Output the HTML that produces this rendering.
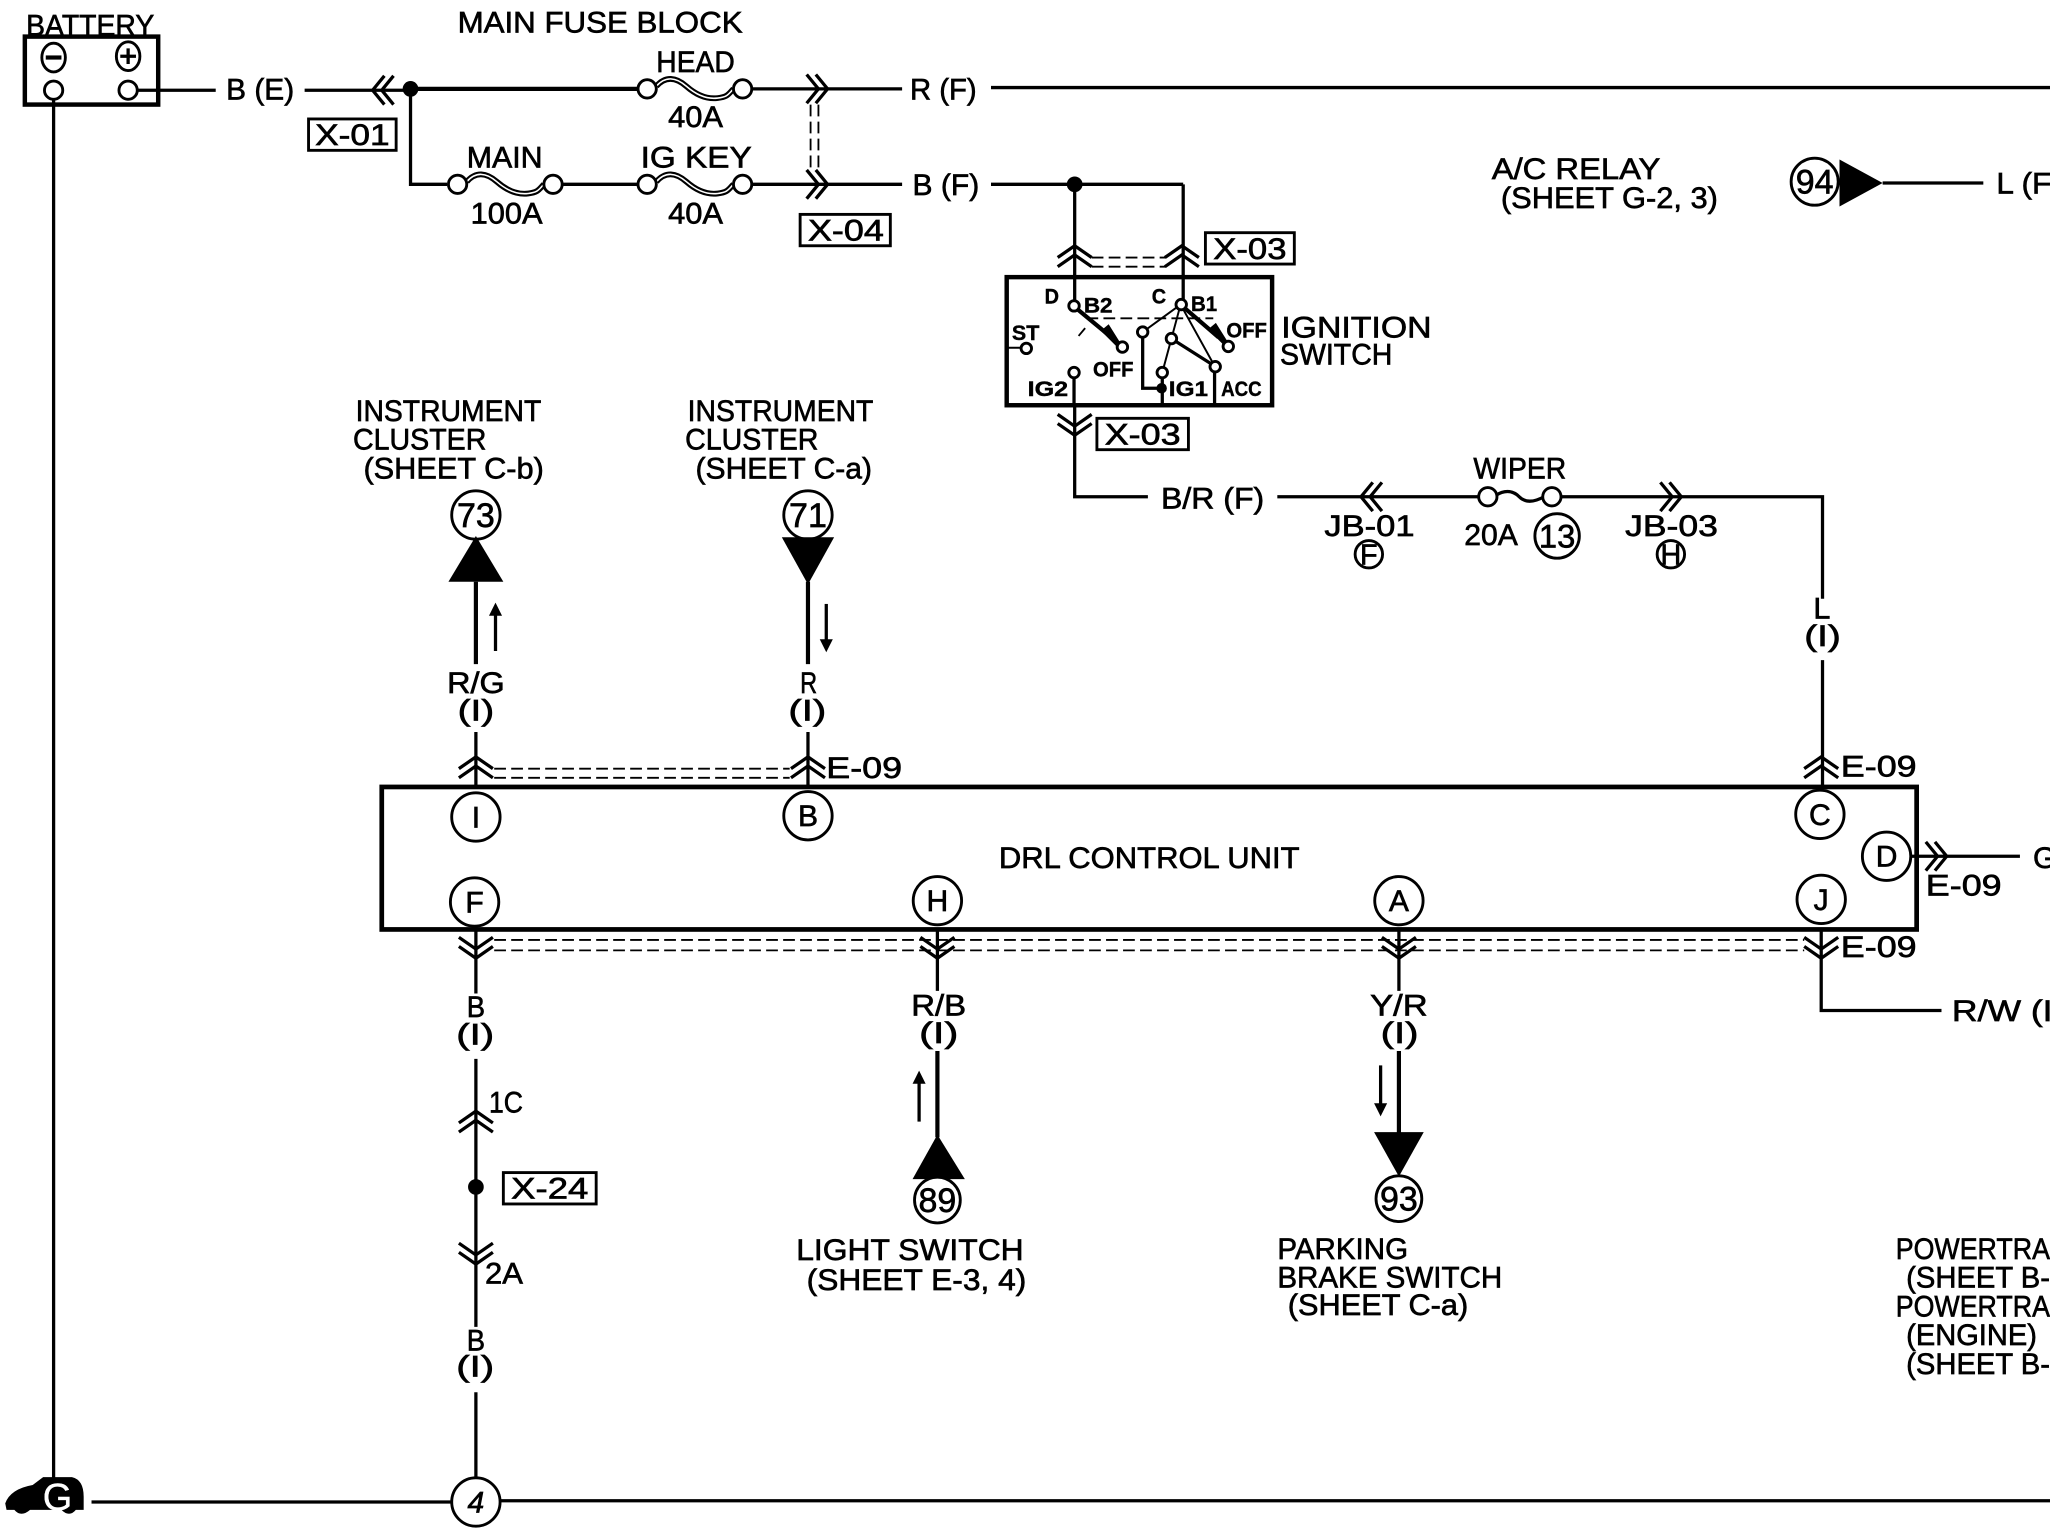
<!DOCTYPE html>
<html>
<head>
<meta charset="utf-8">
<title>DRL wiring diagram</title>
<style>
html,body{margin:0;padding:0;background:#fff;width:2050px;height:1536px;overflow:hidden}
svg{display:block}
text{font-family:"Liberation Sans",sans-serif;font-size:23px;fill:#000;stroke:#000;stroke-width:.5}
.b{font-size:16px;font-weight:bold;stroke-width:.3}
.c{text-anchor:middle}
.l{fill:none;stroke:#000;stroke-width:2.5}
.t{fill:none;stroke:#000;stroke-width:3.2}
.n{fill:none;stroke:#000;stroke-width:1.5}
.o{fill:#fff;stroke:#000;stroke-width:2.2}
.d{fill:none;stroke:#000;stroke-width:1.4;stroke-dasharray:9 4}
.x{fill:#fff;stroke:#000;stroke-width:2.2}
</style>
</head>
<body>
<svg width="2050" height="1536" viewBox="0 0 1568 1175" preserveAspectRatio="none" xmlns="http://www.w3.org/2000/svg">
<defs>
<path id="cu" class="l" d="M-13 9L0 0L13 9M-13 16L0 7L13 16"/>
<path id="cd" class="l" d="M-13 -9L0 0L13 -9M-13 -16L0 -7L13 -16"/>
<path id="cl" class="l" d="M9 -11L0 0L9 11M16 -11L7 0L16 11"/>
<path id="cr" class="l" d="M-9 -11L0 0L-9 11M-16 -11L-7 0L-16 11"/>
<g id="fuse">
<path d="M7 -2C14 -10 22 -9 30 -2S46 8 54 7S62 4 66 0" fill="none" stroke="#000" stroke-width="4.400"/>
<path d="M7 -2C14 -10 22 -9 30 -2S46 8 54 7S62 4 66 0" fill="none" stroke="#fff" stroke-width="1.200"/>
<circle class="o" cx="0" cy="0" r="7"/><circle class="o" cx="73" cy="0" r="7"/>
</g>
</defs>

<!-- battery -->
<rect x="19" y="28" width="102" height="52" fill="none" stroke="#000" stroke-width="3.400"/>
<text x="20" y="27" textLength="98" lengthAdjust="spacingAndGlyphs">BATTERY</text>
<ellipse class="o" cx="41" cy="44" rx="9" ry="11"/><path class="t" d="M35 44H47"/>
<ellipse class="o" cx="98" cy="43" rx="9" ry="11"/><path class="l" d="M92 43H104M98 37V49"/>
<circle class="o" cx="41" cy="69" r="7"/><circle class="o" cx="98" cy="69" r="7"/>
<path class="l" d="M105 69H165M41 76V1132"/>

<!-- top wiring -->
<text x="173" y="76" textLength="52" lengthAdjust="spacingAndGlyphs">B (E)</text>
<path class="l" d="M233 69H314"/>
<use href="#cl" x="285" y="69"/>
<circle cx="314" cy="68" r="6"/>
<path class="t" d="M314 68H488"/>
<path class="l" d="M314 68V141H342M430 141H488M575 68H690M575 141H690M758 141H905M905 141V233M822 141V233"/>
<path d="M758 67H1568" stroke="#000" stroke-width="2.600" fill="none"/>
<use href="#cr" x="633" y="68"/><use href="#cr" x="633" y="141"/>
<path class="d" d="M620 80V130M626 80V130"/>
<use href="#fuse" x="495" y="68"/><use href="#fuse" x="350" y="141"/><use href="#fuse" x="495" y="141"/>
<text x="350" y="25" textLength="218" lengthAdjust="spacingAndGlyphs">MAIN  FUSE  BLOCK</text>
<text x="502" y="55" textLength="60" lengthAdjust="spacingAndGlyphs">HEAD</text>
<text x="511" y="97" textLength="42" lengthAdjust="spacingAndGlyphs">40A</text>
<text x="357" y="128" textLength="58" lengthAdjust="spacingAndGlyphs">MAIN</text>
<text x="360" y="171" textLength="55" lengthAdjust="spacingAndGlyphs">100A</text>
<text x="490" y="128" textLength="85" lengthAdjust="spacingAndGlyphs">IG KEY</text>
<text x="511" y="171" textLength="42" lengthAdjust="spacingAndGlyphs">40A</text>
<text x="696" y="76" textLength="51" lengthAdjust="spacingAndGlyphs">R (F)</text>
<text x="698" y="149" textLength="51" lengthAdjust="spacingAndGlyphs">B (F)</text>
<rect class="x" x="236" y="91" width="67" height="24"/><text x="241" y="111" textLength="57" lengthAdjust="spacingAndGlyphs">X-01</text>
<rect class="x" x="612" y="164" width="69" height="24"/><text x="618" y="184" textLength="58" lengthAdjust="spacingAndGlyphs">X-04</text>
<circle cx="822" cy="141" r="6"/>

<!-- A/C relay -->
<text x="1141" y="137" textLength="129" lengthAdjust="spacingAndGlyphs">A/C RELAY</text>
<text x="1148" y="159" textLength="166" lengthAdjust="spacingAndGlyphs">(SHEET G-2, 3)</text>
<circle class="o" cx="1388" cy="139" r="18"/>
<text class="c" x="1388" y="148" style="font-size:26px">94</text>
<path d="M1407 122L1440 140L1407 158Z"/>
<path class="l" d="M1440 140H1517"/>
<text x="1527" y="148" textLength="42" lengthAdjust="spacingAndGlyphs">L (F</text>

<!-- ignition -->
<use href="#cu" x="822" y="188"/><use href="#cu" x="904" y="188"/>
<path class="d" d="M835 197H892M835 204H892"/>
<rect class="x" x="922" y="178" width="68" height="24"/><text x="928" y="198" textLength="56" lengthAdjust="spacingAndGlyphs">X-03</text>
<rect x="770" y="212" width="203" height="98" fill="none" stroke="#000" stroke-width="3.400"/>
<path class="d" d="M831 243.500H928M825 257L830 251"/>
<path class="n" d="M770 266H785M903 233L874 254M903 233L896 259L889 285M903 233L929 280"/>
<path class="l" d="M896 259L929 280M874 254V297H888M889 285V310M929 280V310M821.500 285V310"/>
<path class="t" d="M821 234L850 258M903 233L932 258"/>
<path d="M842 253L848 248L858 264L855 266ZM924 252L930 247L940 263L937 265Z"/>
<circle class="o" cx="821.500" cy="234" r="4"/><circle class="o" cx="903.500" cy="233" r="4"/>
<circle class="o" cx="858.500" cy="265.500" r="4"/><circle class="o" cx="939.500" cy="265" r="4"/>
<circle class="o" cx="785" cy="266.500" r="4"/><circle class="o" cx="821.500" cy="285" r="4"/>
<circle class="o" cx="874" cy="254" r="4"/><circle class="o" cx="896" cy="259" r="4"/>
<circle class="o" cx="889" cy="285" r="4"/><circle class="o" cx="929.500" cy="280.500" r="4"/>
<circle cx="888.500" cy="297" r="4"/>
<text class="b" x="799" y="232" textLength="11" lengthAdjust="spacingAndGlyphs">D</text>
<text class="b" x="881" y="232" textLength="11" lengthAdjust="spacingAndGlyphs">C</text>
<text class="b" x="829" y="239" textLength="22" lengthAdjust="spacingAndGlyphs">B2</text>
<text class="b" x="911" y="238" textLength="20" lengthAdjust="spacingAndGlyphs">B1</text>
<text class="b" x="774" y="260" textLength="21" lengthAdjust="spacingAndGlyphs">ST</text>
<text class="b" x="836" y="288" textLength="31" lengthAdjust="spacingAndGlyphs">OFF</text>
<text class="b" x="938" y="258" textLength="31" lengthAdjust="spacingAndGlyphs">OFF</text>
<text class="b" x="786" y="303" textLength="31" lengthAdjust="spacingAndGlyphs">IG2</text>
<text class="b" x="894" y="303" textLength="30" lengthAdjust="spacingAndGlyphs">IG1</text>
<text class="b" x="934" y="303" textLength="31" lengthAdjust="spacingAndGlyphs">ACC</text>
<text x="980" y="258" textLength="115" lengthAdjust="spacingAndGlyphs">IGNITION</text>
<text x="979" y="279" textLength="86" lengthAdjust="spacingAndGlyphs">SWITCH</text>
<use href="#cd" x="822" y="333"/>
<rect class="x" x="839" y="320" width="70" height="24"/><text x="845" y="340" textLength="58" lengthAdjust="spacingAndGlyphs">X-03</text>
<path class="l" d="M822 310V380H878M977 380H1131M1194 380H1394V458M1394 505V602"/>
<text x="888" y="389" textLength="79" lengthAdjust="spacingAndGlyphs">B/R (F)</text>
<use href="#cl" x="1041" y="380"/><use href="#cr" x="1286" y="380"/>
<path d="M1144 379C1152 374 1158 376 1162 380S1172 385 1181 380" fill="none" stroke="#000" stroke-width="2.500"/>
<circle class="o" cx="1138" cy="380" r="7"/><circle class="o" cx="1187" cy="380" r="7"/>
<text x="1127" y="366" textLength="71" lengthAdjust="spacingAndGlyphs">WIPER</text>
<text x="1120" y="417" textLength="41" lengthAdjust="spacingAndGlyphs">20A</text>
<circle class="o" cx="1191" cy="410" r="17"/><text class="c" x="1191" y="419" style="font-size:25px">13</text>
<text x="1013" y="410" textLength="69" lengthAdjust="spacingAndGlyphs">JB-01</text>
<text x="1243" y="410" textLength="71" lengthAdjust="spacingAndGlyphs">JB-03</text>
<circle class="o" cx="1047" cy="424" r="10.500"/><text class="c" x="1047" y="432" style="font-size:22px">F</text>
<circle class="o" cx="1278" cy="424" r="10.500"/><text class="c" x="1278" y="432" style="font-size:22px">H</text>
<text x="1387" y="473" textLength="13" lengthAdjust="spacingAndGlyphs">L</text>
<text x="1380" y="494" textLength="28" lengthAdjust="spacingAndGlyphs">(I)</text>
<use href="#cu" x="1393" y="579"/>
<text x="1408" y="594" textLength="58" lengthAdjust="spacingAndGlyphs">E-09</text>

<!-- instrument cluster -->
<text x="272" y="322" textLength="142" lengthAdjust="spacingAndGlyphs">INSTRUMENT</text>
<text x="270" y="344" textLength="102" lengthAdjust="spacingAndGlyphs">CLUSTER</text>
<text x="278" y="366" textLength="138" lengthAdjust="spacingAndGlyphs">(SHEET C-b)</text>
<circle class="o" cx="364" cy="394" r="18.500"/><text class="c" x="364" y="403" style="font-size:26px">73</text>
<path d="M364 410L343 445H385Z"/>
<path class="t" d="M364 445V508M618 445V508"/>
<path class="l" d="M379 470V498M364 560V602M618 560V602"/><path d="M379 461L374 471H384Z"/>
<text x="342" y="530" textLength="44" lengthAdjust="spacingAndGlyphs">R/G</text>
<text x="350" y="551" textLength="28" lengthAdjust="spacingAndGlyphs">(I)</text>
<text x="526" y="322" textLength="142" lengthAdjust="spacingAndGlyphs">INSTRUMENT</text>
<text x="524" y="344" textLength="102" lengthAdjust="spacingAndGlyphs">CLUSTER</text>
<text x="532" y="366" textLength="135" lengthAdjust="spacingAndGlyphs">(SHEET C-a)</text>
<circle class="o" cx="618" cy="394" r="18.500"/><text class="c" x="618" y="403" style="font-size:26px">71</text>
<path d="M598 411H638L618 447Z"/>
<path class="l" d="M632 462V490"/><path d="M632 499L627 489H637Z"/>
<text x="612" y="530" textLength="13" lengthAdjust="spacingAndGlyphs">R</text>
<text x="603" y="551" textLength="29" lengthAdjust="spacingAndGlyphs">(I)</text>
<use href="#cu" x="364" y="579"/><use href="#cu" x="618" y="579"/>
<path class="d" d="M378 588H604M378 595H604"/>
<text x="632" y="595" textLength="58" lengthAdjust="spacingAndGlyphs">E-09</text>

<!-- DRL unit -->
<rect x="292" y="602" width="1174" height="109" fill="none" stroke="#000" stroke-width="3.600"/>
<text x="764" y="664" textLength="230" lengthAdjust="spacingAndGlyphs">DRL  CONTROL  UNIT</text>
<circle class="o" cx="364" cy="625" r="18.500"/><text class="c" x="364" y="633">I</text>
<circle class="o" cx="618" cy="624" r="18.500"/><text class="c" x="618" y="632">B</text>
<circle class="o" cx="1392" cy="623" r="18.500"/><text class="c" x="1392" y="631">C</text>
<circle class="o" cx="1443" cy="655" r="18.500"/><text class="c" x="1443" y="663">D</text>
<circle class="o" cx="363" cy="690" r="18.500"/><text class="c" x="363" y="698">F</text>
<circle class="o" cx="717" cy="689" r="18.500"/><text class="c" x="717" y="697">H</text>
<circle class="o" cx="1070" cy="689" r="18.500"/><text class="c" x="1070" y="697">A</text>
<circle class="o" cx="1393" cy="688" r="18.500"/><text class="c" x="1393" y="696">J</text>
<path class="l" d="M1462 655H1545"/><use href="#cr" x="1489" y="655"/>
<text x="1473" y="685" textLength="58" lengthAdjust="spacingAndGlyphs">E-09</text>
<text x="1555" y="664">G</text>

<!-- below unit -->
<path class="d" d="M378 719H1380M378 727H1380"/>
<use href="#cd" x="364" y="733"/><use href="#cd" x="717" y="733"/><use href="#cd" x="1070" y="733"/><use href="#cd" x="1393" y="733"/>
<path class="l" d="M364 711V760M717 711V758M1070 711V758M1393 711V773H1485"/>
<text x="1408" y="732" textLength="58" lengthAdjust="spacingAndGlyphs">E-09</text>
<text x="1493" y="781" textLength="86" lengthAdjust="spacingAndGlyphs">R/W (I)</text>
<text x="357" y="778" textLength="14" lengthAdjust="spacingAndGlyphs">B</text>
<text x="349" y="799" textLength="29" lengthAdjust="spacingAndGlyphs">(I)</text>
<text x="697" y="777" textLength="42" lengthAdjust="spacingAndGlyphs">R/B</text>
<text x="703" y="798" textLength="30" lengthAdjust="spacingAndGlyphs">(I)</text>
<text x="1048" y="777" textLength="44" lengthAdjust="spacingAndGlyphs">Y/R</text>
<text x="1056" y="798" textLength="29" lengthAdjust="spacingAndGlyphs">(I)</text>

<!-- ground branch -->
<path class="l" d="M364 810V1015M364 1065V1132"/>
<use href="#cu" x="364" y="850"/><use href="#cd" x="364" y="967"/>
<text x="374" y="851" textLength="26" lengthAdjust="spacingAndGlyphs">1C</text>
<circle cx="364" cy="908" r="6"/>
<rect class="x" x="385" y="897" width="71" height="24"/><text x="391" y="917" textLength="59" lengthAdjust="spacingAndGlyphs">X-24</text>
<text x="371" y="982" textLength="29" lengthAdjust="spacingAndGlyphs">2A</text>
<text x="357" y="1033" textLength="14" lengthAdjust="spacingAndGlyphs">B</text>
<text x="349" y="1053" textLength="29" lengthAdjust="spacingAndGlyphs">(I)</text>

<!-- light switch -->
<path class="t" d="M717 804V870M1070 804V868"/>
<path d="M717 868L698 902H738Z"/>
<circle class="o" cx="717" cy="918" r="17.500"/><text class="c" x="717" y="927" style="font-size:26px">89</text>
<path class="l" d="M703 828V858"/><path d="M703 819L698 829H708Z"/>
<text x="609" y="964" textLength="174" lengthAdjust="spacingAndGlyphs">LIGHT  SWITCH</text>
<text x="617" y="987" textLength="168" lengthAdjust="spacingAndGlyphs">(SHEET E-3, 4)</text>

<!-- parking brake -->
<path d="M1051 866H1089L1070 900Z"/>
<circle class="o" cx="1070" cy="917" r="17.500"/><text class="c" x="1070" y="926" style="font-size:26px">93</text>
<path class="l" d="M1056 815V845"/><path d="M1056 854L1051 844H1061Z"/>
<text x="977" y="963" textLength="100" lengthAdjust="spacingAndGlyphs">PARKING</text>
<text x="977" y="985" textLength="172" lengthAdjust="spacingAndGlyphs">BRAKE  SWITCH</text>
<text x="985" y="1006" textLength="138" lengthAdjust="spacingAndGlyphs">(SHEET C-a)</text>

<!-- powertrain -->
<text x="1450" y="963" textLength="118" lengthAdjust="spacingAndGlyphs">POWERTRA</text>
<text x="1458" y="985" textLength="110" lengthAdjust="spacingAndGlyphs">(SHEET B-</text>
<text x="1450" y="1007" textLength="118" lengthAdjust="spacingAndGlyphs">POWERTRA</text>
<text x="1458" y="1029" textLength="100" lengthAdjust="spacingAndGlyphs">(ENGINE)</text>
<text x="1458" y="1051" textLength="110" lengthAdjust="spacingAndGlyphs">(SHEET B-</text>

<!-- ground -->
<path d="M4 1150Q8 1139 25 1136L33 1130H55Q64 1132 64 1145V1155H58Q53 1161 47 1155H23Q16 1161 11 1155H5Z"/>
<text class="c" x="44" y="1155" style="font-size:29px;fill:#fff;stroke:#fff;stroke-width:.3">G</text>
<path class="l" d="M70 1149H345M383 1148H1568"/>
<circle class="o" cx="364" cy="1149" r="18.500"/><text class="c" x="364" y="1157" font-style="italic">4</text>
</svg>
</body>
</html>
